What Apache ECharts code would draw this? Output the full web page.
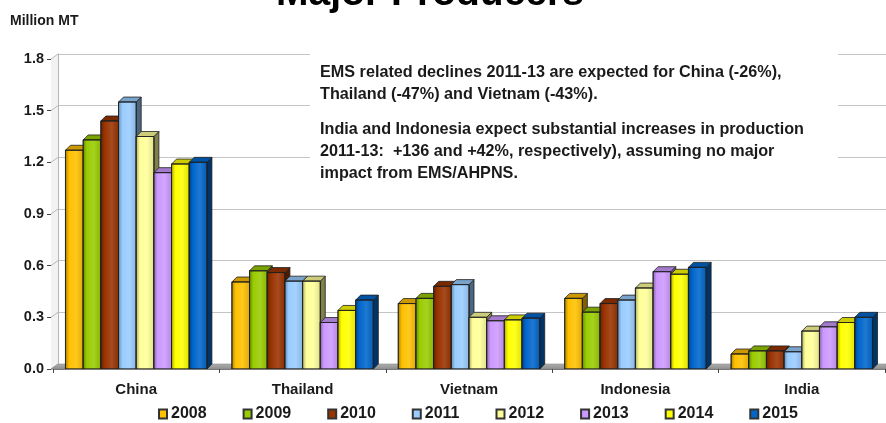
<!DOCTYPE html>
<html>
<head>
<meta charset="utf-8">
<script src="https://cdn.jsdelivr.net/npm/echarts@6/dist/echarts.min.js"></script>
<style>
  html, body { margin: 0; padding: 0; background: #fff; }
  #main { width: 886px; height: 423px; }
</style>
</head>
<body>
<div id="main"></div>
<script>
// Shrimp production of the major producing countries, million metric tonnes
const categories = ['China', 'Thailand', 'Vietnam', 'Indonesia', 'India'];
const years = ['2008', '2009', '2010', '2011', '2012', '2013', '2014', '2015'];

const v2008 = [1.27, 0.505, 0.38, 0.41, 0.087];
const v2009 = [1.33, 0.57, 0.41, 0.33, 0.105];
const v2010 = [1.44, 0.56, 0.48, 0.38, 0.105];
const v2011 = [1.55, 0.51, 0.49, 0.40, 0.10];
const v2012 = [1.35, 0.51, 0.30, 0.47, 0.22];
const v2013 = [1.14, 0.27, 0.28, 0.565, 0.245];
const v2014 = [1.19, 0.34, 0.285, 0.55, 0.27];
const v2015 = [1.20, 0.40, 0.295, 0.59, 0.30];

const yTicks = [0, 0.3, 0.6, 0.9, 1.2, 1.5, 1.8];

const yearValues = [v2008, v2009, v2010, v2011, v2012, v2013, v2014, v2015];
const yearColors = ['#FFC000', '#99CC00', '#993300', '#99CCFF', '#FFFF99', '#CC99FF', '#FFFF00', '#0066CC'];

const FONT = '"Liberation Sans", Arial, Helvetica, sans-serif';
const TXT = '#1a1a1a';

// 3D look
const BAR_DX = 5, BAR_DY = 5;      // bar depth
const WALL_DX = 7, WALL_DY = 5;    // floor / back-wall depth
const GROUP_FRAC = 0.85;           // share of a category used by the bar cluster

const G = { left: 53, right: 1, top: 59, bottom: 54 };

function hexToRgb(h) {
  const n = parseInt(h.slice(1), 16);
  return [(n >> 16) & 255, (n >> 8) & 255, n & 255];
}
function mix(h, target, t) {
  const a = hexToRgb(h), b = hexToRgb(target);
  const c = a.map((v, i) => Math.round(v + (b[i] - v) * t));
  return 'rgb(' + c.join(',') + ')';
}

function renderBar(params, api) {
  const cat = api.value(0);
  const val = api.value(1);
  const base = api.coord([cat, 0]);
  const top = api.coord([cat, val]);
  const band = api.size([1, 0])[0];
  const groupW = band * GROUP_FRAC;
  const bw = groupW / years.length;
  const k = params.seriesIndex;
  const x0 = base[0] - groupW / 2 + k * bw;
  const x1 = x0 + bw;
  const y0 = base[1];
  const y1 = top[1];
  const c = yearColors[k];
  const stroke = '#202020';

  const front = {
    type: 'rect',
    shape: { x: x0, y: y1, width: bw, height: y0 - y1 },
    style: {
      fill: new echarts.graphic.LinearGradient(0, 0, 1, 0, [
        { offset: 0, color: mix(c, '#000000', 0.35) },
        { offset: 0.22, color: c },
        { offset: 0.6, color: mix(c, '#ffffff', 0.12) },
        { offset: 1, color: mix(c, '#000000', 0.12) }
      ]),
      stroke: stroke, lineWidth: 0.8
    }
  };
  const topFace = {
    type: 'polygon',
    shape: { points: [[x0, y1], [x0 + BAR_DX, y1 - BAR_DY], [x1 + BAR_DX, y1 - BAR_DY], [x1, y1]] },
    style: { fill: mix(c, '#000000', 0.2), stroke: stroke, lineWidth: 0.8 }
  };
  const side = {
    type: 'polygon',
    shape: { points: [[x1, y1], [x1 + BAR_DX, y1 - BAR_DY], [x1 + BAR_DX, y0 - BAR_DY], [x1, y0]] },
    style: { fill: mix(c, '#000000', 0.5), stroke: stroke, lineWidth: 0.8 }
  };
  return { type: 'group', children: [side, topFace, front] };
}

const series = years.map((yr, k) => ({
  name: yr,
  type: 'custom',
  xAxisIndex: 0,
  yAxisIndex: 0,
  renderItem: renderBar,
  itemStyle: { color: yearColors[k], borderColor: '#333', borderWidth: 1 },
  encode: { x: 0, y: 1 },
  data: yearValues[k].map((v, i) => [i, v]),
  z: 3
}));

const chart = echarts.init(document.getElementById('main'));

const option = {
  animation: false,
  backgroundColor: '#ffffff',
  textStyle: { fontFamily: FONT },
  grid: [
    { left: G.left, right: G.right, top: G.top, bottom: G.bottom },
    { left: G.left + WALL_DX - 2, right: G.right - 8, top: G.top - WALL_DY, bottom: G.bottom + WALL_DY }
  ],
  xAxis: [
    {
      type: 'category', gridIndex: 0, data: categories,
      axisLine: { show: true, lineStyle: { color: '#7a7a7a', width: 1 } },
      axisTick: { show: true, length: 4, lineStyle: { color: '#444' } },
      axisLabel: { fontFamily: FONT, fontWeight: 'bold', fontSize: 15, color: TXT, margin: 13 },
      z: 4
    },
    { type: 'category', gridIndex: 1, data: categories, show: false }
  ],
  yAxis: [
    {
      type: 'value', gridIndex: 0, min: 0, max: 1.8, interval: 0.3, offset: 2,
      axisLine: { show: true, lineStyle: { color: '#777', width: 1 } },
      axisTick: { show: true, length: 4, lineStyle: { color: '#444' } },
      splitLine: { show: false },
      axisLabel: {
        fontFamily: FONT, fontWeight: 'bold', fontSize: 14.5, color: TXT, margin: 7,
        formatter: (v) => v.toFixed(1)
      }
    },
    {
      type: 'value', gridIndex: 1, min: 0, max: 1.8, interval: 0.3,
      axisLine: { show: true, lineStyle: { color: '#b5b5b5', width: 1 } },
      axisTick: { show: false },
      axisLabel: { show: false },
      splitLine: { show: true, lineStyle: { color: '#c4c4c4', width: 1 } }
    }
  ],
  legend: {
    data: years,
    left: 153, top: 401,
    icon: 'rect',
    itemWidth: 8, itemHeight: 9,
    itemGap: 36,
    textStyle: { fontFamily: FONT, fontWeight: 'bold', fontSize: 16, color: TXT, padding: [0, 0, 0, -1] },
    selectedMode: false
  },
  series: series
};

chart.setOption(option);

// Floor, left wall, title and notes drawn around the plot
function decorate() {
  const yF = (v) => chart.convertToPixel({ yAxisIndex: 0 }, v);
  const yB = (v) => chart.convertToPixel({ yAxisIndex: 1 }, v);
  const W = chart.getWidth();
  const axisX = G.left - 2;
  const floorF = yF(0), floorB = yB(0);
  const elements = [];

  // left side wall
  elements.push({
    type: 'polygon', z: 1, silent: true,
    shape: { points: [[axisX, floorF], [axisX + WALL_DX, floorB], [axisX + WALL_DX, yB(1.8)], [axisX, yF(1.8)]] },
    style: { fill: '#f2f2f2', stroke: null }
  });
  yTicks.forEach((v) => {
    elements.push({
      type: 'line', z: 1, silent: true,
      shape: { x1: axisX, y1: yF(v), x2: axisX + WALL_DX, y2: yB(v) },
      style: { stroke: '#b8b8b8', lineWidth: 1 }
    });
  });
  // floor
  elements.push({
    type: 'polygon', z: 2, silent: true,
    shape: { points: [[axisX, floorF], [W, floorF], [W, floorB], [axisX + WALL_DX, floorB]] },
    style: {
      fill: new echarts.graphic.LinearGradient(0, 0, 0, 1, [
        { offset: 0, color: '#b0b0b0' }, { offset: 1, color: '#8c8c8c' }
      ]),
      stroke: '#8a8a8a', lineWidth: 0.6
    }
  });
  // white panel behind the notes
  elements.push({
    type: 'rect', z: 2, silent: true,
    shape: { x: 310, y: 47, width: 528, height: 141 },
    style: { fill: '#ffffff' }
  });
  elements.push({
    type: 'text', z: 3, silent: true, x: 320, y: 62,
    style: {
      text: 'EMS related declines 2011-13 are expected for China (-26%),\nThailand (-47%) and Vietnam (-43%).',
      font: 'bold 16.2px ' + FONT, fill: TXT, lineHeight: 21.5, verticalAlign: 'top'
    }
  });
  elements.push({
    type: 'text', z: 3, silent: true, x: 320, y: 119,
    style: {
      text: 'India and Indonesia expect substantial increases in production\n2011-13:  +136 and +42%, respectively), assuming no major\nimpact from EMS/AHPNS.',
      font: 'bold 16.2px ' + FONT, fill: TXT, lineHeight: 22, verticalAlign: 'top'
    }
  });
  // title (runs off the top edge)
  elements.push({
    type: 'text', z: 3, silent: true, x: 430, y: -6,
    style: { text: 'Major Producers', font: 'bold 39px ' + FONT, fill: '#000', align: 'center', verticalAlign: 'middle' }
  });
  // unit label
  elements.push({
    type: 'text', z: 3, silent: true, x: 10, y: 21,
    style: { text: 'Million MT', font: 'bold 14px ' + FONT, fill: TXT, verticalAlign: 'middle' }
  });

  chart.setOption({ graphic: { elements: elements } });
}
decorate();
</script>
</body>
</html>
